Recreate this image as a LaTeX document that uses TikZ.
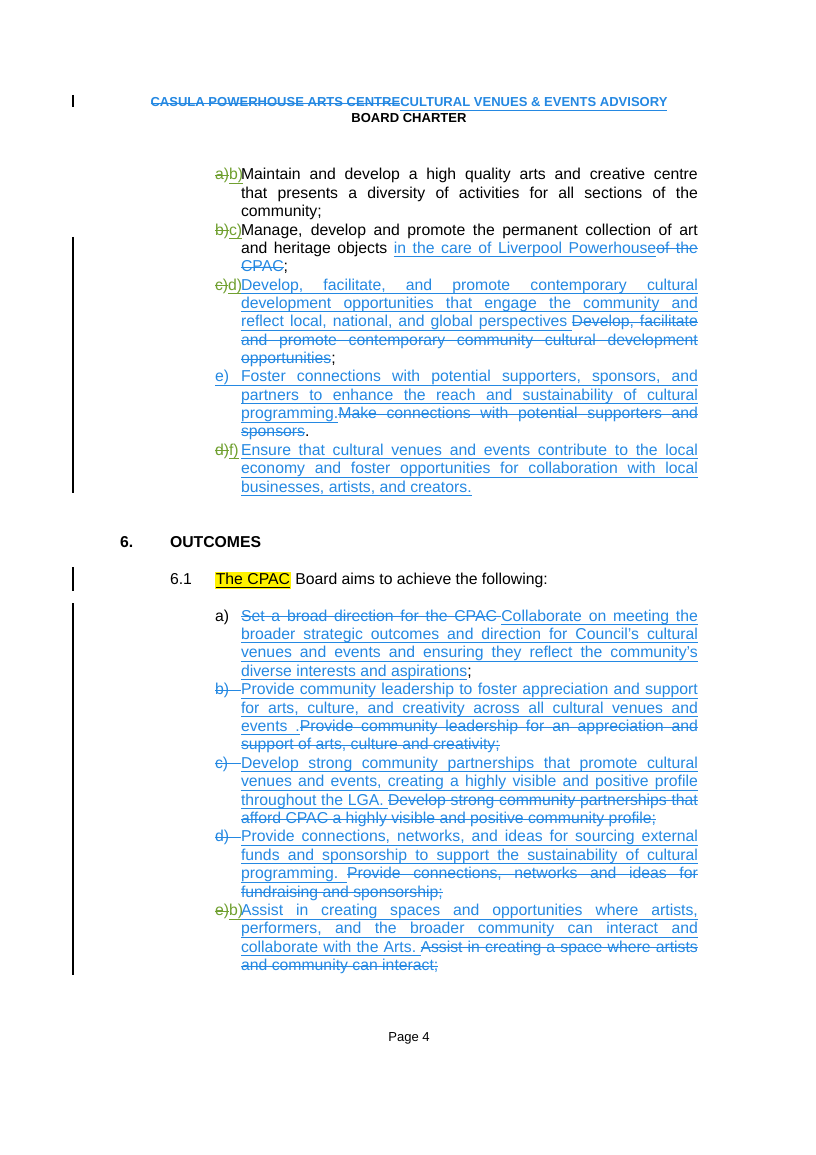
\documentclass[tikz,border=0pt]{standalone}
\usepackage{fontspec}
\setmainfont{Liberation Sans}
\definecolor{blu}{RGB}{36,136,226}
\definecolor{grn}{RGB}{112,160,48}
\def\ULht{-2.2pt}\def\ULdp{2.7pt}
\def\ULword#1{\setbox0\hbox{#1}\hbox{\rlap{\vrule width\wd0 height\ULht depth\ULdp}\box0}}
\def\ULspace{\leaders\hrule height\ULht depth\ULdp\hskip\fontdimen2\font plus\fontdimen3\font minus\fontdimen4\font}
\def\ULrun#1 #2\ULend{\ULword{#1}\ifx\relax#2\relax\else\ULspace\ULrun#2\ULend\fi}
\newcommand{\ulx}[1]{\def\ULht{-2.2pt}\def\ULdp{2.7pt}\ULrun#1 \ULend}
\newcommand{\sox}[1]{\def\ULht{3.6pt}\def\ULdp{-3.1pt}\ULrun#1 \ULend}
\newcommand{\ins}[1]{{\color{blu}\ulx{#1}}}
\newcommand{\del}[1]{{\color{blu}\sox{#1}}}
\newcommand{\gins}[1]{{\color{grn}\ulx{#1}}}
\newcommand{\gdel}[1]{{\color{grn}\sox{#1}}}
\newcommand{\ulfill}[1]{{\color{#1}\leaders\hrule height -2.2pt depth 2.7pt\hfill}}
\newcommand{\sofill}[1]{{\color{#1}\leaders\hrule height 3.6pt depth -3.1pt\hfill}}
\newcommand{\lab}[1]{\makebox[19pt][l]{#1}}
\newcommand{\itm}{\par\noindent\hangindent=19pt\hangafter=1 }
\tikzset{txt/.style={anchor=base west,inner sep=0pt,outer sep=0pt},
  bar/.style={line width=0.8pt}}
\begin{document}
\begin{tikzpicture}[x=0.729pt,y=-0.729pt]
\useasboundingbox (0,0) rectangle (816,1155);
\fill[white] (0,0) rectangle (816,1155);
% header
\node[anchor=base,inner sep=0pt] (h1) at (409,107) {\fontsize{9.5}{11}\bfseries{\color{blu}\def\ULht{2.9pt}\def\ULdp{-2.4pt}\ULrun CASULA POWERHOUSE ARTS CENTRE \ULend}\ins{CULTURAL VENUES \& EVENTS ADVISORY}};
\node[anchor=base,inner sep=0pt] (h2) at (409,123) {\fontsize{9.5}{11}\bfseries BOARD CHARTER};
% block 1
\node[txt] (b1) at (215,180) {\parbox[t]{352pt}{\fontsize{11.5}{13.38}\selectfont
\tolerance=10000\hbadness=10000\emergencystretch=20pt\parskip=0pt
\itm\lab{\gdel{a)}\gins{b)}\ulfill{grn}}Maintain and develop a high quality arts and creative centre\linebreak that presents a diversity of activities for all sections of the\linebreak community;
\itm\lab{\gdel{b)}\gins{c)}\ulfill{grn}}Manage, develop and promote the permanent collection of art\linebreak and heritage objects \ins{in the care of Liverpool Powerhouse}\del{of the}\linebreak\del{CPAC};
\itm\lab{\gdel{c)}\gins{d)}\ulfill{grn}}\ins{Develop, facilitate, and promote contemporary cultural}\linebreak\ins{development opportunities that engage the community and}\linebreak\ins{reflect local, national, and global perspectives\ }\del{Develop, facilitate}\linebreak\del{and promote contemporary community cultural development}\linebreak\del{opportunities};
\itm\lab{\ins{e)}\ulfill{blu}}\ins{Foster connections with potential supporters, sponsors, and}\linebreak\ins{partners to enhance the reach and sustainability of cultural}\linebreak\ins{programming.}\del{Make connections with potential supporters and}\linebreak\del{sponsors}.
\itm\lab{\gdel{d)}\gins{f)}}\ins{Ensure that cultural venues and events contribute to the local}\linebreak\ins{economy and foster opportunities for collaboration with local}\linebreak\ins{businesses, artists, and creators.}\par}};
% section 6
\node[txt] (s6) at (120,547) {\fontsize{11.5}{13}\bfseries 6.};
\node[txt] (s6t) at (170,547) {\fontsize{11.5}{13}\bfseries OUTCOMES};
\node[txt] (s61) at (170,584) {\fontsize{11.5}{13}\selectfont 6.1};
\node[txt] (s61t) at (215,584) {\fontsize{11.5}{13}\selectfont{\fboxsep=0.6pt\colorbox{yellow}{\ulx{The CPAC}}} Board aims to achieve the following:};
% block 2
\node[txt] (b2) at (215,621) {\parbox[t]{352pt}{\fontsize{11.5}{13.42}\selectfont
\tolerance=10000\hbadness=10000\emergencystretch=20pt\parskip=0pt
\itm\lab{a)}\del{Set a broad direction for the CPAC\ }\ins{Collaborate on meeting the}\linebreak\ins{broader strategic outcomes and direction for Council’s cultural}\linebreak\ins{venues and events and ensuring they reflect the community’s}\linebreak\ins{diverse interests and aspirations};
\itm\lab{\del{b)}\sofill{blu}}\ins{Provide community leadership to foster appreciation and support}\linebreak\ins{for arts, culture, and creativity across all cultural venues and}\linebreak\ins{events .}\del{Provide community leadership for an appreciation and}\linebreak\del{support of arts, culture and creativity;}
\itm\lab{\del{c)}\sofill{blu}}\ins{Develop strong community partnerships that promote cultural}\linebreak\ins{venues and events, creating a highly visible and positive profile}\linebreak\ins{throughout the LGA.\ }\del{Develop strong community partnerships that}\linebreak\del{afford CPAC a highly visible and positive community profile;}
\itm\lab{\del{d)}\sofill{blu}}\ins{Provide connections, networks, and ideas for sourcing external}\linebreak\ins{funds and sponsorship to support the sustainability of cultural}\linebreak\ins{programming.\ \ }\del{Provide connections, networks and ideas for}\linebreak\del{fundraising and sponsorship;}
\itm\lab{\gdel{e)}\gins{b)}\ulfill{grn}}\ins{Assist in creating spaces and opportunities where artists,}\linebreak\ins{performers, and the broader community can interact and}\linebreak\ins{collaborate with the Arts.\ }\del{Assist in creating a space where artists}\linebreak\del{and community can interact;}\par}};
% footer
\node[anchor=base,inner sep=0pt] (pg) at (409,1041) {\fontsize{9.5}{11}\selectfont Page 4};
% change bars
\draw[bar] (73,95) -- (73,107);
\draw[bar] (73,237) -- (73,493);
\draw[bar] (73,567) -- (73,591);
\draw[bar] (73,603) -- (73,975);
\end{tikzpicture}
\end{document}
